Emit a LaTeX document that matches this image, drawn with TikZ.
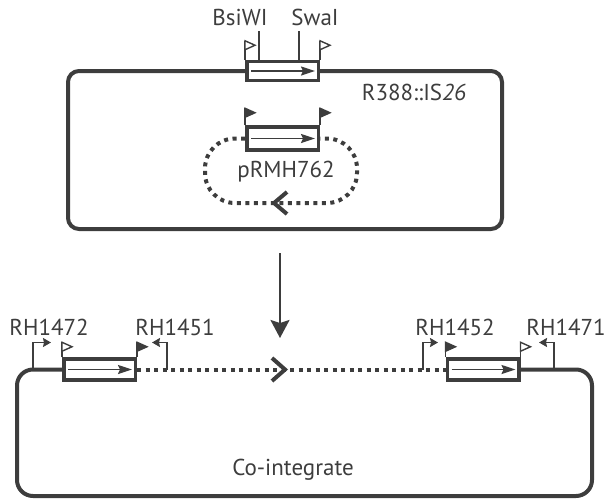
\documentclass[tikz,border=0pt]{standalone}
\usepackage{fontspec}
\setmainfont{PT Sans}
\usetikzlibrary{arrows.meta,positioning,calc}
\definecolor{inkgray}{RGB}{61,61,61}

\tikzset{
  pics/flag/.style 2 args={code={
    \draw[line width=1.7pt, inkgray] (0,0) -- (0,-#2);
    \draw[line width=1.4pt, inkgray, fill=#1, line join=miter]
      (0,-#2) -- (10,{4.5-#2}) -- (0,{9-#2}) -- cycle;
  }}
}

\begin{document}
\begin{tikzpicture}[
    x=1pt, y=-1pt,
    font=\fontsize{23}{26}\selectfont, text=inkgray,
    backbone/.style={line width=4pt, inkgray},
    dotline/.style={line width=4pt, inkgray, dash pattern=on 4pt off 4.5pt},
    isbox/.style={rectangle, draw=inkgray, fill=white, line width=3.5pt,
        minimum width=71.5pt, inner sep=0pt},
    inner/.style={-{Stealth[length=14pt,width=9pt,inset=2pt]}, line width=1.5pt, inkgray},
    primer/.style={-{Stealth[length=8pt,width=9pt,inset=1pt]}, line width=1.7pt, inkgray},
    site/.style={line width=1.7pt, inkgray},
    chev/.style={line width=4pt, inkgray, line join=miter},
    label/.style={anchor=base, inner sep=0pt}
]
    \useasboundingbox (0,0) rectangle (608,499);

    % R388::IS26
    \draw[backbone, rounded corners=11pt] (68,71) rectangle (502,229);
    \node[isbox, minimum height=19pt] (isTop) at (282.5,71) {};
    \draw[inner] ([xshift=6pt]isTop.west) -- ([xshift=-5pt]isTop.east);
    \pic at (isTop.north west) {flag={white}{19}};
    \pic at (isTop.north east) {flag={white}{19}};
    \coordinate (bsiwiSite) at (259,31);
    \coordinate (swaiSite) at (299,31);
    \draw[site] (bsiwiSite) -- (bsiwiSite |- isTop.north);
    \draw[site] (swaiSite) -- (swaiSite |- isTop.north);
    \node[label] (bsiwi) at (240,25) {BsiWI};
    \node[label] (swai) at (315,25) {SwaI};
    \node[label] (r388) at (414,100) {R388::IS\textit{26}};

    % pRMH762
    \node[isbox, minimum height=23pt] (isLoop) at (282.5,138.5) {};
    \draw[dotline, rounded corners=30pt] (isLoop.west) -- (205,138.5) -- (205,203)
        -- (357,203) -- (357,138.5) -- (isLoop.east);
    \node[isbox, minimum height=23pt] at (isLoop) {};
    \draw[inner] ([xshift=6pt]isLoop.west) -- ([xshift=-5pt]isLoop.east);
    \pic at (isLoop.north west) {flag={inkgray}{17}};
    \pic at (isLoop.north east) {flag={inkgray}{17}};
    \draw[chev] (287,192) -- (274,203) -- (287,214);
    \node[label] (prmh) at (286,177) {pRMH762};

    % step
    \coordinate (arrTop) at (280,253);
    \coordinate (arrBot) at (280,338);
    \draw[-{Stealth[length=18pt,width=19pt,inset=3pt]}, line width=2pt, inkgray] (arrTop) -- (arrBot);

    % co-integrate
    \node[isbox, minimum height=21pt] (isLeft) at (99.5,369.5) {};
    \node[isbox, minimum height=21pt] (isRight) at (483,369.5) {};
    \draw[backbone, rounded corners=16pt] (isLeft.west) -- (17,369.5) -- (17,496)
        -- (592,496) -- (592,369.5) -- (isRight.east);
    \draw[dotline] (isLeft.east) -- (isRight.west);
    \node[isbox, minimum height=21pt] at (isLeft) {};
    \node[isbox, minimum height=21pt] at (isRight) {};
    \draw[inner] ([xshift=6pt]isLeft.west) -- ([xshift=-5pt]isLeft.east);
    \draw[inner] ([xshift=6pt]isRight.west) -- ([xshift=-5pt]isRight.east);
    \pic at (isLeft.north west) {flag={white}{15}};
    \pic at (isLeft.north east) {flag={inkgray}{15}};
    \pic at (isRight.north west) {flag={inkgray}{15}};
    \pic at (isRight.north east) {flag={white}{15}};
    \draw[chev] (272,358) -- (285,369.5) -- (272,381);

    \coordinate (p1472) at (33,369.5);
    \coordinate (p1451) at (167,369.5);
    \coordinate (p1452) at (423,369.5);
    \coordinate (p1471) at (554,369.5);
    \draw[primer] (p1472) -- ++(0,-27) -- ++(18,0);
    \draw[primer] (p1451) -- ++(0,-27) -- ++(-15,0);
    \draw[primer] (p1452) -- ++(0,-27) -- ++(15,0);
    \draw[primer] (p1471) -- ++(0,-27) -- ++(-15,0);
    \node[label] (rh1472) at (49,335) {RH1472};
    \node[label] (rh1451) at (175,335) {RH1451};
    \node[label] (rh1452) at (455,335) {RH1452};
    \node[label] (rh1471) at (566,335) {RH1471};
    \node[label] (coint) at (293,475) {Co-integrate};
\end{tikzpicture}
\end{document}
